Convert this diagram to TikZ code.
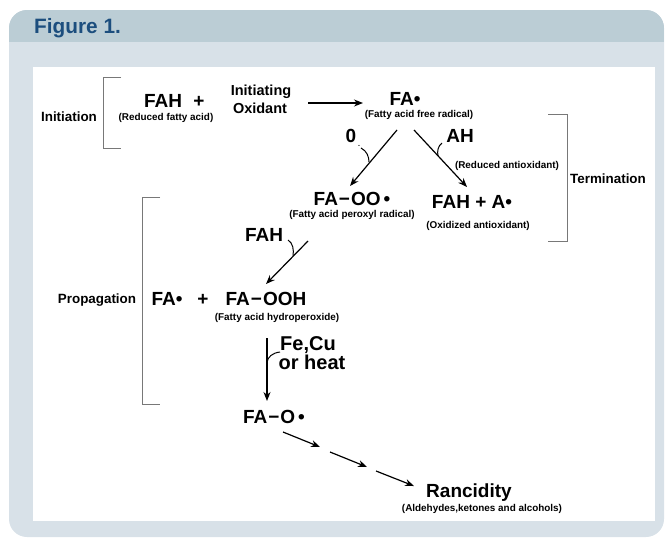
\documentclass[tikz,border=0pt]{standalone}
\usepackage{fontspec}
\setmainfont{Liberation Sans}
\usetikzlibrary{arrows.meta}
\definecolor{headc}{RGB}{187,205,213}
\definecolor{bodyc}{RGB}{216,225,232}
\definecolor{titleblue}{RGB}{28,78,126}
\definecolor{brkc}{RGB}{120,120,120}
\tikzset{
 big/.style={font=\bfseries\fontsize{19}{19}\selectfont, anchor=base, inner sep=0pt},
 mid/.style={font=\bfseries\fontsize{20}{20}\selectfont, anchor=base, inner sep=0pt},
 small/.style={font=\bfseries\fontsize{9.9}{10}\selectfont, anchor=base, inner sep=0pt},
 stage/.style={font=\bfseries\fontsize{13.4}{14}\selectfont, anchor=base, inner sep=0pt},
 oxid/.style={font=\bfseries\fontsize{14.5}{15}\selectfont, anchor=base, inner sep=0pt},
 arr/.style={-{Stealth[length=9pt,width=7pt]}, line width=1.2pt},
 brk/.style={draw=brkc, line width=1pt},
 hookline/.style={line width=1pt}
}
\begin{document}
\begin{tikzpicture}[x=1pt,y=-1pt]
\useasboundingbox (0,0) rectangle (666,538);
% frame
\fill[bodyc, rounded corners=18pt] (9,10) rectangle (664,537);
\begin{scope}
 \clip[rounded corners=18pt] (9,10) rectangle (664,537);
 \fill[headc] (9,10) rectangle (664,42);
\end{scope}
\node[font=\bfseries\fontsize{20.8}{21}\selectfont, text=titleblue, anchor=base west, inner sep=0pt] (title) at (34,33) {Figure 1.};
\fill[white] (33,67) rectangle (655,521);

% brackets
\draw[brk] (121,77) -- (103,77) -- (103,148) -- (121,148);
\draw[brk] (548,114) -- (567,114) -- (567,241) -- (548,241);
\draw[brk] (160,197) -- (142,197) -- (142,404) -- (160,404);

% labels
\node[stage] (init) at (69,121) {Initiation};
\node[stage] (term) at (608,183) {Termination};
\node[stage] (prop) at (97,303) {Propagation};

% initiation
\node[big] (fah) at (163,107) {FAH};
\node[big] (plus1) at (199,107) {+};
\node[small] (fahlab) at (166,120) {(Reduced fatty acid)};
\node[oxid] (ox1) at (261,95) {Initiating};
\node[oxid] (ox2) at (260,113) {Oxidant};
\coordinate (a1s) at (308,103);
\coordinate (a1e) at (363,103);
\draw[arr] (a1s) -- (a1e);
\node[big] (fa) at (405,105) {FA•};
\node[small] (falab) at (419,117) {(Fatty acid free radical)};

% branches
\coordinate (l1s) at (397,130);
\coordinate (l1e) at (350,186);
\draw[arr] (l1s) -- (l1e);
\coordinate (r1s) at (414,130);
\coordinate (r1e) at (467,187);
\draw[arr] (r1s) -- (r1e);
\node[big] (oxy) at (351,142) {0};
\node[font=\bfseries\fontsize{7}{7}\selectfont, inner sep=0pt, anchor=base] (oxydot) at (359,146) {.};
\node[big] (ah) at (460,142) {AH};
\node[small] (ahlab) at (507,168) {(Reduced antioxidant)};
\coordinate (h1s) at (361,148);
\coordinate (h1e) at (369,162);
\draw[hookline] (h1s) .. controls (367,151) and (369,157) .. (h1e);
\coordinate (h2s) at (442,143);
\coordinate (h2e) at (438,156);
\draw[hookline] (h2s) .. controls (438,146) and (437,151) .. (h2e);

\node[big] (faoo) at (352,205) {FA\kern1pt−\kern1pt OO\kern3pt•};
\node[small] (faoolab) at (352,217) {(Fatty acid peroxyl radical)};
\node[big] (faha) at (472,208) {FAH + A•};
\node[small] (fahalab) at (478,228) {(Oxidized antioxidant)};

% propagation
\node[big] (fah2) at (264,241) {FAH};
\coordinate (p1s) at (308,241);
\coordinate (p1e) at (266,284);
\draw[arr] (p1s) -- (p1e);
\coordinate (h3s) at (288,240);
\coordinate (h3e) at (293,256);
\draw[hookline] (h3s) .. controls (293,243) and (294,250) .. (h3e);
\node[big] (fa2) at (167,305) {FA•};
\node[big] (plus2) at (203,305) {+};
\node[big] (faooh) at (266,305) {FA\kern1pt−\kern1pt OOH};
\node[small] (faoohlab) at (277,320) {(Fatty acid hydroperoxide)};

% decomposition
\coordinate (v1s) at (267,338);
\coordinate (v1e) at (267,401);
\draw[arr] (v1s) -- (v1e);
\coordinate (h4s) at (280,352);
\coordinate (h4e) at (267,362);
\draw[hookline] (h4s) .. controls (272,353) and (268,357) .. (h4e);
\node[mid] (fecu) at (308,350) {Fe,Cu};
\node[mid] (heat) at (312,369) {or heat};
\node[big] (fao) at (274,423) {FA\kern1pt−\kern1pt O\kern3pt•};

% dashed arrows to rancidity
\coordinate (d1s) at (283,432);
\coordinate (d1e) at (320,447);
\coordinate (d2s) at (330,452);
\coordinate (d2e) at (367,467);
\coordinate (d3s) at (376,471);
\coordinate (d3e) at (414,486);
\draw[arr] (d1s) -- (d1e);
\draw[arr] (d2s) -- (d2e);
\draw[arr] (d3s) -- (d3e);
\node[big] (ranc) at (469,497) {Rancidity};
\node[small] (ranclab) at (482,511) {(Aldehydes,ketones and alcohols)};
\end{tikzpicture}
\end{document}
